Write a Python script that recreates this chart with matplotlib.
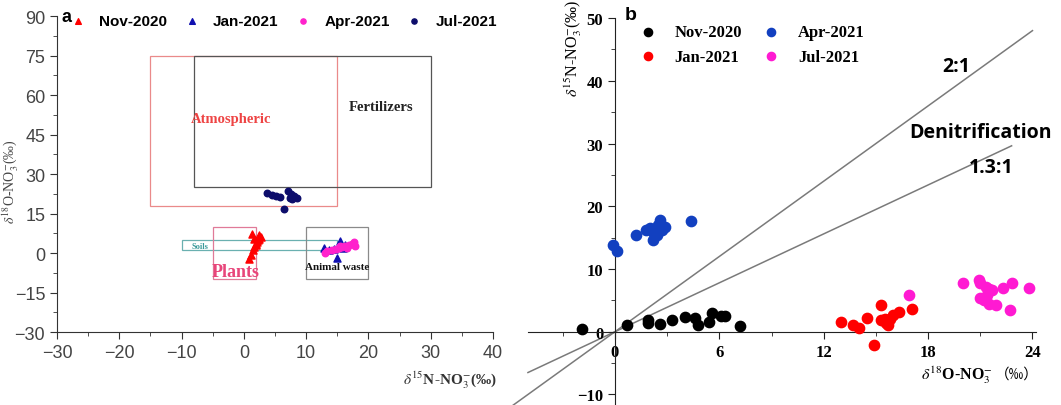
import matplotlib
matplotlib.use("Agg")
import matplotlib.pyplot as plt
from matplotlib.patches import Rectangle
from matplotlib.ticker import MultipleLocator

plt.rcParams['mathtext.fontset'] = 'stix'

# ---- panel a: d15N (x) vs d18O (y), source boxes ----
nov_a_n = [1.3, 2.5, 1.7, 2.2, 2.0, 1.6, 1.5, 1.2, 0.9, 2.8, 2.1, 1.9, 2.4]
nov_a_o = [7.4, 6.8, 5.5, 4.9, 3.6, 2.3, 1.0, -0.8, -2.1, 6.1, 4.2, 3.0, 5.2]
jan_a_n = [12.9, 13.7, 14.4, 15.4, 14.9, 15.9, 16.3]
jan_a_o = [2.0, 1.1, 1.5, 4.6, -2.0, 1.8, 3.0]
apr_a_n = [13.0, 13.3, 14.2, 15.2, 15.8, 16.3, 16.8, 17.3, 17.7, 17.9, 16.5, 15.5, 14.8]
apr_a_o = [0.2, 0.8, 1.0, 1.8, 2.2, 2.6, 3.0, 3.5, 4.2, 2.8, 2.0, 2.5, 1.5]
jul_a_n = [3.7, 4.5, 5.1, 5.8, 7.1, 7.6, 8.1, 8.5, 7.4, 6.5, 7.8]
jul_a_o = [22.7, 22.1, 21.7, 21.4, 23.5, 22.5, 21.8, 21.0, 21.0, 16.8, 20.6]

box_names = ["Atmospheric", "Fertilizers", "Soils", "Plants", "Animal waste"]
box_x0 = [-15, -8, -10, -5, 10]
box_x1 = [15, 30, 15, 2, 20]
box_y0 = [18, 25, 1, -10, -10]
box_y1 = [75, 75, 5, 10, 10]

# ---- panel b: d18O (x) vs d15N (y) ----
nov_b_o = [-1.9, 0.7, 1.9, 1.9, 2.6, 3.3, 4.0, 4.6, 4.8, 5.4, 5.6, 6.1, 6.3, 7.2]
nov_b_n = [0.4, 1.0, 1.8, 1.4, 1.3, 1.8, 2.3, 2.2, 1.0, 1.6, 3.0, 2.5, 2.5, 0.9]
jan_b_o = [13.0, 13.7, 14.0, 14.5, 14.9, 15.3, 15.3, 15.6, 15.7, 15.8, 16.0, 16.3, 17.1, 15.5]
jan_b_n = [1.5, 1.1, 0.6, 2.2, -2.1, 4.2, 1.8, 1.4, 1.0, 2.1, 2.6, 3.2, 3.7, 2.1]
apr_b_o = [-0.1, 0.1, 1.2, 1.8, 2.2, 2.2, 2.4, 2.5, 2.6, 2.9, 2.7, 4.4, 2.0]
apr_b_n = [13.8, 12.8, 15.5, 16.2, 15.9, 14.7, 15.5, 17.0, 17.8, 16.7, 16.2, 17.6, 16.5]
jul_b_o = [16.9, 20.0, 20.9, 21.0, 21.3, 21.5, 21.7, 21.0, 21.2, 21.5, 21.9, 22.3, 22.8, 22.7, 23.8, 21.4]
jul_b_n = [5.8, 7.8, 8.3, 7.7, 7.1, 6.8, 6.6, 5.4, 5.0, 4.5, 4.2, 6.9, 7.7, 3.4, 6.9, 5.8]

ratio_names = ["2:1", "1.3:1"]
ratio_slopes = [2.0, 1.3]
ratio_x0 = [-6.0, -5.0]
ratio_x1 = [24.0, 22.8]

fig = plt.figure(figsize=(10.61, 4.06), dpi=100)

# ================= panel a =================
axa = fig.add_axes([0.0537, 0.1798, 0.411, 0.778])
box_cols = ["#ea8a8a", "#555555", "#6ab0b0", "#e07a98", "#8a8a8a"]
for nm, x0, x1, y0, y1, c in zip(box_names, box_x0, box_x1, box_y0, box_y1, box_cols):
    axa.add_patch(Rectangle((x0, y0), x1 - x0, y1 - y0, fill=False, edgecolor=c, lw=0.9))

axa.scatter(nov_a_n, nov_a_o, marker='^', s=26, color='#ff0000', label='Nov-2020', zorder=3)
axa.scatter(jan_a_n, jan_a_o, marker='^', s=26, color='#1010b0', label='Jan-2021', zorder=3)
axa.scatter(apr_a_n, apr_a_o, marker='o', s=22, color='#ff22cc', label='Apr-2021', zorder=4)
axa.scatter(jul_a_n, jul_a_o, marker='o', s=22, color='#0d0d6b', label='Jul-2021', zorder=4)

axa.text(-2, 51, "Atmospheric", color='#ee4444', family='Liberation Serif', weight='bold', fontsize=10.5, ha='center', va='center')
axa.text(22, 55.5, "Fertilizers", color='#222222', family='Liberation Serif', weight='bold', fontsize=10.5, ha='center', va='center')
axa.text(-7, 2.8, "Soils", color='#3a9a9a', family='Liberation Serif', weight='bold', fontsize=6, ha='center', va='center')
axa.text(-1.4, -7, "Plants", color='#e8457a', family='Liberation Serif', weight='bold', fontsize=13, ha='center', va='center')
axa.text(15, -5, "Animal waste", color='#111111', family='Liberation Serif', weight='bold', fontsize=8, ha='center', va='center')

axa.set_xlim(-30, 40)
axa.set_ylim(-30, 90)
axa.xaxis.set_major_locator(MultipleLocator(10))
axa.xaxis.set_minor_locator(MultipleLocator(5))
axa.yaxis.set_major_locator(MultipleLocator(15))
axa.yaxis.set_minor_locator(MultipleLocator(7.5))
for s in ['top', 'right']:
    axa.spines[s].set_visible(False)
for s in ['left', 'bottom']:
    axa.spines[s].set_color('#333333')
axa.tick_params(which='major', direction='out', length=5, color='#333333', labelsize=13, labelcolor='#444444')
axa.tick_params(which='minor', direction='out', length=3, color='#333333')
for lb in axa.get_xticklabels() + axa.get_yticklabels():
    lb.set_family('Liberation Sans')

axa.set_xlabel(r'$\delta^{15}$N-NO$_3^{-}$(‰)', family='Liberation Serif', weight='bold', fontsize=11, color='#333333')
axa.xaxis.set_label_coords(1.01, -0.115)
axa.xaxis.label.set_ha('right')
axa.set_ylabel(r'$\delta^{18}$O-NO$_3^{-}$(‰)', family='Liberation Serif', fontsize=10, color='#444444')
axa.yaxis.set_label_coords(-0.085, 0.48)

leg_a = axa.legend(loc='upper left', bbox_to_anchor=(64 / 1061, 1 - 7 / 406), bbox_transform=fig.transFigure,
                   ncol=4, frameon=False, borderpad=0, handlelength=0.8, handletextpad=1.0,
                   columnspacing=1.2, prop={'family': 'Liberation Sans', 'weight': 'bold', 'size': 11},
                   markerscale=0.8)
fig.text(62 / 1061, 1 - 17 / 406, "a", family='Liberation Sans', weight='bold', fontsize=13, va='center')

# ================= panel b =================
axb = fig.add_axes([0.4976, -0.005, 0.4788, 0.958])
for nm, k, x0, x1 in zip(ratio_names, ratio_slopes, ratio_x0, ratio_x1):
    axb.plot([x0, x1], [k * x0, k * x1], color='#7a7a7a', lw=1.1, clip_on=False, zorder=1)

axb.scatter(nov_b_o, nov_b_n, s=55, color='#000000', label='Nov-2020', zorder=3)
axb.scatter(jan_b_o, jan_b_n, s=55, color='#ff0000', label='Jan-2021', zorder=3)
axb.scatter(apr_b_o, apr_b_n, s=55, color='#1240c0', label='Apr-2021', zorder=3)
axb.scatter(jul_b_o, jul_b_n, s=55, color='#ff1ad2', label='Jul-2021', zorder=3)

axb.text(19.6, 42.4, "2:1", family='Open Sans', weight='bold', fontsize=14, ha='center', va='center')
axb.text(21.0, 31.9, "Denitrification", family='Open Sans', weight='bold', fontsize=14, ha='center', va='center')
axb.text(21.6, 26.3, "1.3:1", family='Open Sans', weight='bold', fontsize=14, ha='center', va='center')

axb.set_xlim(-5, 24.2)
axb.set_ylim(-12, 50)
axb.spines['left'].set_position(('data', 0))
axb.spines['bottom'].set_position(('data', 0))
for s in ['top', 'right']:
    axb.spines[s].set_visible(False)
for s in ['left', 'bottom']:
    axb.spines[s].set_color('#222222')
axb.set_xticks([0, 6, 12, 18, 24])
axb.xaxis.set_minor_locator(MultipleLocator(3))
axb.set_yticks([-10, 0, 10, 20, 30, 40, 50])
axb.yaxis.set_minor_locator(MultipleLocator(5))
axb.tick_params(which='major', direction='out', length=5, color='#222222', labelsize=12)
axb.tick_params(which='minor', direction='out', length=3, color='#222222')
for lb in axb.get_xticklabels() + axb.get_yticklabels():
    lb.set_family('Liberation Serif')
    lb.set_weight('bold')

fig.text(993 / 1061, 1 - 375 / 406, r'$\delta^{18}$O-NO$_3^{-}$', family='Liberation Serif',
         weight='bold', fontsize=11.5, ha='right', va='center')
fig.text(995 / 1061, 1 - 375 / 406, '（‰）', family=['Noto Sans CJK SC', 'DejaVu Sans'],
         fontsize=10.5, ha='left', va='center')
fig.text(573 / 1061, 1 - 48 / 406, r'$\delta^{15}$N-NO$_3^{-}$(‰)', family='Liberation Serif',
         fontsize=11.5, rotation=90, ha='center', va='center')

leg_b = axb.legend(loc='upper left', bbox_to_anchor=(633 / 1061, 1 - 17 / 406), bbox_transform=fig.transFigure,
                   ncol=2, frameon=False, borderpad=0, handlelength=0.8, handletextpad=1.2,
                   columnspacing=1.35, labelspacing=0.5, markerscale=0.8,
                   prop={'family': 'Liberation Serif', 'weight': 'bold', 'size': 12})
fig.text(625 / 1061, 1 - 15 / 406, "b", family='Liberation Sans', weight='bold', fontsize=14, va='center')

fig.savefig("out.png", dpi=100)
